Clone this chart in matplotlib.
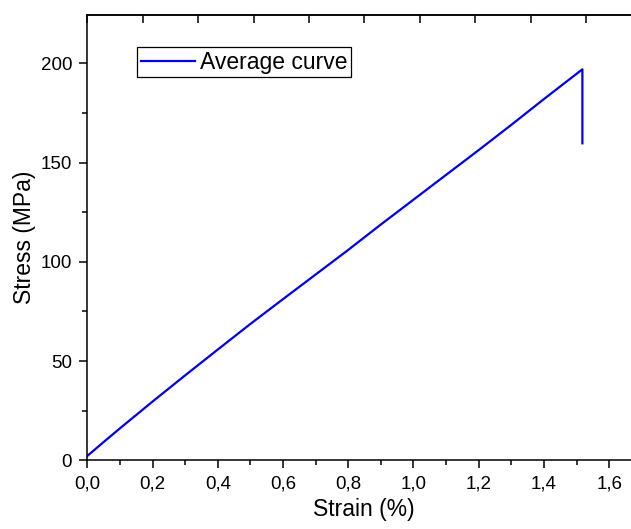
import matplotlib
matplotlib.use('Agg')
import matplotlib.pyplot as plt
from matplotlib.ticker import MultipleLocator, FuncFormatter

plt.rcParams['font.family'] = ['Liberation Sans', 'DejaVu Sans']

# averaged stress-strain curve (strain in %, stress in MPa)
strain = [0.0, 0.05, 0.1, 0.2, 0.3, 0.4, 0.5, 0.6, 0.7, 0.8, 0.9, 1.0,
          1.1, 1.2, 1.3, 1.4, 1.518, 1.518]
stress = [2.2, 9.2, 16.1, 29.6, 42.8, 55.8, 68.7, 81.2, 93.6, 106.0, 118.8,
          131.3, 143.8, 156.3, 169.0, 182.0, 197.0, 159.7]

fig = plt.figure(figsize=(6.31, 5.29), dpi=100)
ax = fig.add_axes([0.1384, 0.1299, 0.8616, 0.8423])

ax.plot(strain, stress, color='#0000f0', lw=1.6, label='Average curve')

ax.set_xlim(0, 1.667)
ax.set_ylim(0, 224.5)
ax.xaxis.set_major_locator(MultipleLocator(0.2))
ax.xaxis.set_minor_locator(MultipleLocator(0.1))
ax.yaxis.set_major_locator(MultipleLocator(50))
ax.yaxis.set_minor_locator(MultipleLocator(25))
ax.xaxis.set_major_formatter(FuncFormatter(lambda v, p: f'{v:.1f}'.replace('.', ',')))

ax.spines['right'].set_visible(False)
for s in ['left', 'bottom', 'top']:
    ax.spines[s].set_linewidth(1.1)

ax.tick_params(which='major', direction='out', length=6, width=1.1,
               labelsize=13.5, pad=5)
ax.tick_params(which='minor', direction='out', length=3.5, width=1.1)

# top axis: inward ticks, no labels
top = ax.twiny()
top.set_xlim(0, 9.81)
top.xaxis.set_major_locator(MultipleLocator(1))
top.tick_params(axis='x', direction='in', length=5.8, width=1.1, labeltop=False)
for s in ['left', 'bottom', 'right']:
    top.spines[s].set_visible(False)
top.spines['top'].set_linewidth(1.1)

ax.set_xlabel('Strain (%)', fontsize=16.5)
ax.xaxis.set_label_coords(0.509, -0.085)
ax.set_ylabel('Stress (MPa)', fontsize=16.5, labelpad=3)

leg = ax.legend(loc='upper left', bbox_to_anchor=(0.092, 0.927),
                borderaxespad=0, fontsize=16.5, fancybox=False, framealpha=1,
                edgecolor='black', handlelength=2.35, handletextpad=0.25,
                borderpad=0.15)
leg.get_frame().set_linewidth(0.9)

fig.savefig('out.png', dpi=100)
